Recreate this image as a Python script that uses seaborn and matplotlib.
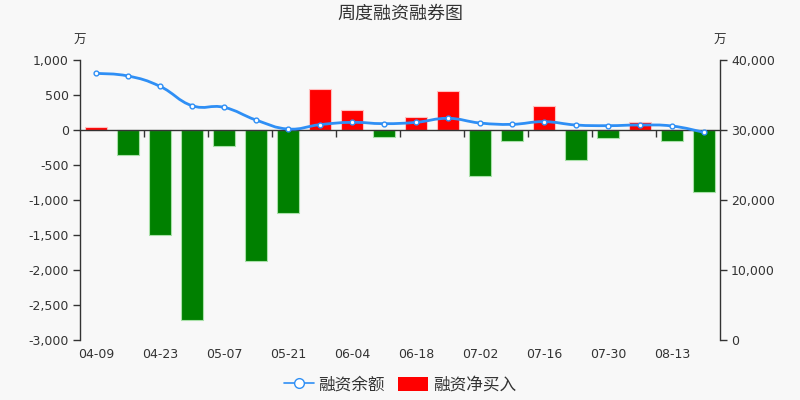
import numpy as np
import pandas as pd
import matplotlib
matplotlib.use("Agg")
import matplotlib.pyplot as plt
from matplotlib.path import Path
from matplotlib.patches import PathPatch, FancyBboxPatch
from matplotlib.lines import Line2D
import seaborn as sns

dates = ["04-09", "04-16", "04-23", "04-30", "05-07", "05-14", "05-21", "05-28",
         "06-04", "06-11", "06-18", "06-25", "07-02", "07-09", "07-16", "07-23",
         "07-30", "08-06", "08-13", "08-20"]
net_buy = [50, -350, -1505, -2714, -235, -1871, -1190, 581,
           290, -105, 186, 562, -652, -162, 338, -424,
           -119, 114, -157, -890]
balance = [38095, 37714, 36238, 33476, 33238, 31429, 30143, 30762,
           31095, 30905, 31095, 31667, 31000, 30810, 31190, 30714,
           30619, 30714, 30571, 29667]
tick_labels = dates[::2]
left_ticks = [-3000, -2500, -2000, -1500, -1000, -500, 0, 500, 1000]
right_ticks = [0, 10000, 20000, 30000, 40000]

title = "周度融资融券图"
legend_line = "融资余额"
legend_bar = "融资净买入"
unit = "万"

sns.set_theme(style="white")
plt.rcParams['font.family'] = ['Noto Sans CJK SC', 'DejaVu Sans']
BG = "#f8f8f8"
TXT = "#333333"

fig = plt.figure(figsize=(8, 4), dpi=100, facecolor=BG)
ax = fig.add_axes([0.1, 0.15, 0.8, 0.70])
ax.set_facecolor(BG)

df = pd.DataFrame({"date": dates, "net": net_buy,
                   "sign": ["pos" if v >= 0 else "neg" for v in net_buy]})
sns.barplot(data=df, x="date", y="net", hue="sign", order=dates,
            palette={"pos": "#ff0000", "neg": "#008000"}, dodge=False,
            width=0.69, legend=False, ax=ax, saturation=1)
for p, v in zip(sorted(ax.patches, key=lambda r: r.get_x()), net_buy):
    p.set_edgecolor("#ffc0c0" if v >= 0 else "#a8e0a8")
    p.set_linewidth(0.8)

ax.set_xlim(-0.5, len(dates) - 0.5)
ax.set_ylim(-3000, 1000)
ax.set_yticks(left_ticks)
ax.set_yticklabels([f"{t:,}" for t in left_ticks], fontsize=9, color=TXT,
                   family="DejaVu Sans")
ax.set_xlabel("")
ax.set_ylabel("")
for s in ["top", "right"]:
    ax.spines[s].set_visible(False)
ax.spines["left"].set_color(TXT)
ax.spines["left"].set_linewidth(1)
ax.spines["bottom"].set_position(("data", 0))
ax.spines["bottom"].set_color(TXT)
ax.spines["bottom"].set_linewidth(1)
ax.spines["bottom"].set_zorder(5)
ax.tick_params(axis="y", left=True, length=5, width=1, color=TXT, pad=3)
ax.set_xticks([])
ax.set_xticks(np.arange(1.5, len(dates) - 1, 2), minor=True)
ax.tick_params(axis="x", which="minor", bottom=True, length=5, width=1,
               color=TXT, labelbottom=False)

sec = ax.secondary_xaxis(0.0)
sec.set_xticks(range(0, len(dates), 2))
sec.set_xticklabels(tick_labels, fontsize=9, color=TXT, family="DejaVu Sans")
sec.tick_params(length=0, pad=6)
sec.spines["bottom"].set_visible(False)

ax2 = ax.twinx()
ax2.set_ylim(0, 40000)
ax2.set_yticks(right_ticks)
ax2.set_yticklabels([f"{t:,}" for t in right_ticks], fontsize=9, color=TXT,
                    family="DejaVu Sans")
for s in ["top", "left", "bottom"]:
    ax2.spines[s].set_visible(False)
ax2.spines["right"].set_color(TXT)
ax2.spines["right"].set_linewidth(1)
ax2.tick_params(axis="y", right=True, length=5, width=1, color=TXT, pad=3)

# smoothed line
xs = np.arange(len(balance), dtype=float)
ys = np.array(balance, dtype=float)
pts = np.column_stack([xs, ys])
t = 0.22
verts = [pts[0]]
codes = [Path.MOVETO]
n = len(pts)
for i in range(n - 1):
    p0 = pts[i - 1] if i > 0 else pts[i]
    p1 = pts[i]
    p2 = pts[i + 1]
    p3 = pts[i + 2] if i + 2 < n else pts[i + 1]
    c1 = p1 + (p2 - p0) * t
    c2 = p2 - (p3 - p1) * t
    verts += [c1, c2, p2]
    codes += [Path.CURVE4] * 3
LINE_C = "#2f8ff5"
ax2.add_patch(PathPatch(Path(verts, codes), facecolor="none", edgecolor=LINE_C,
                        linewidth=2, zorder=3))
sns.scatterplot(x=xs, y=ys, ax=ax2, s=12, color="white", edgecolor=LINE_C,
                linewidth=1, zorder=4, legend=False)
ax2.set_xlim(-0.5, len(dates) - 0.5)

fig.text(0.5, 0.965, title, ha="center", va="center", fontsize=13, color=TXT)
fig.text(0.1, 0.9, unit, ha="center", va="center", fontsize=9, color=TXT)
fig.text(0.9, 0.9, unit, ha="center", va="center", fontsize=9, color=TXT)

h1 = Line2D([], [], color=LINE_C, linewidth=1.2, marker="o", markersize=7,
            markerfacecolor="white", markeredgecolor=LINE_C, markeredgewidth=1)
h2 = FancyBboxPatch((0, 0), 1, 1, boxstyle="round,pad=0,rounding_size=0.3",
                    facecolor="#ff0000", edgecolor="none")
leg = fig.legend([h1, h2], [legend_line, legend_bar], loc="center",
                 bbox_to_anchor=(0.5, 0.037), ncol=2, frameon=False,
                 fontsize=12, handlelength=1.8, handleheight=0.9,
                 columnspacing=0.8, handletextpad=0.3)
for txt in leg.get_texts():
    txt.set_color(TXT)

fig.savefig("out.png", dpi=100, facecolor=BG)
